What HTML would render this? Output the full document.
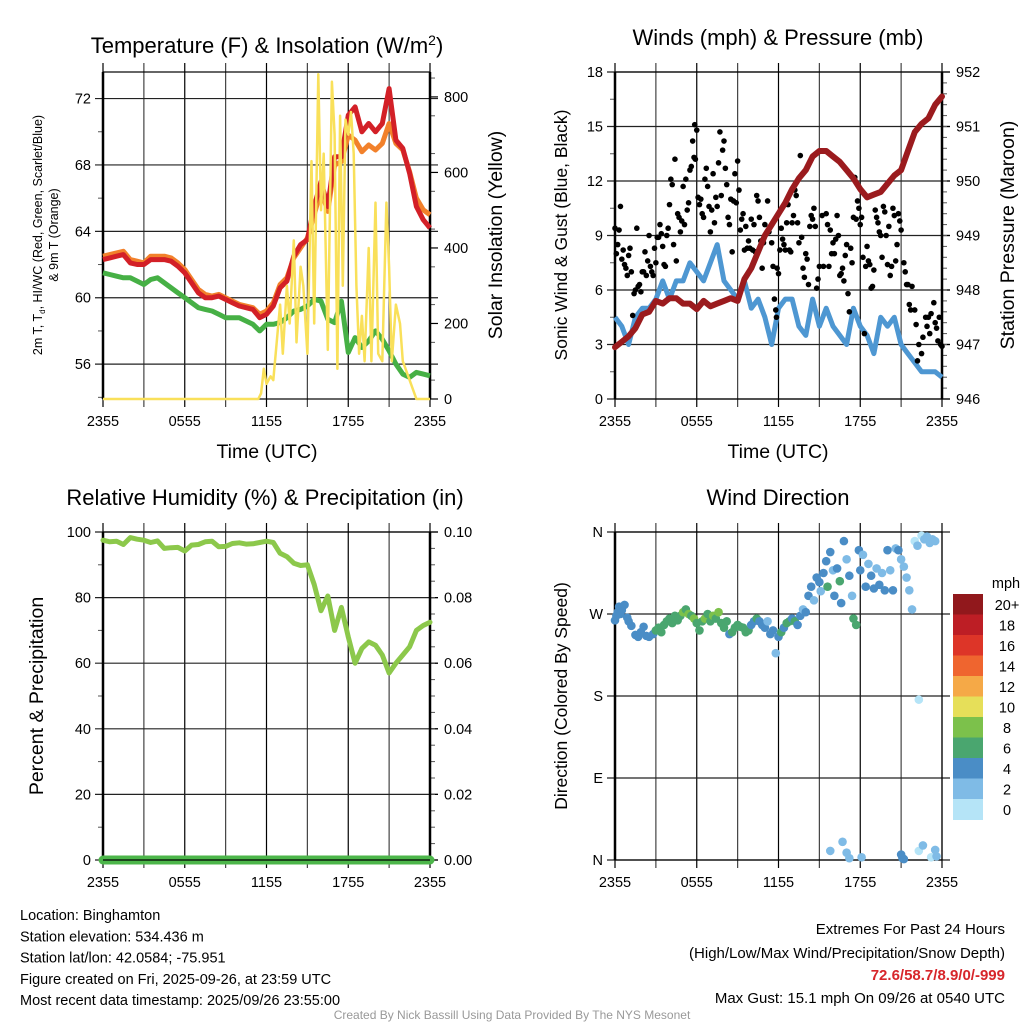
<!DOCTYPE html>
<html><head><meta charset="utf-8"><style>
html,body{margin:0;padding:0;background:#fff;}
svg{display:block;font-family:"Liberation Sans",Arial,sans-serif;}
</style></head><body>
<svg id="chart" width="1024" height="1024" viewBox="0 0 1024 1024" xmlns="http://www.w3.org/2000/svg">
<rect width="1024" height="1024" fill="#fff"/>
</svg>
<script>
// ---------- DATA ----------
const timeTickHours = [0, 6, 12, 18, 24];
const timeTickLabels = ['2355', '0555', '1155', '1755', '2355'];
const halfHours = [0,0.5,1,1.5,2,2.5,3,3.5,4,4.5,5,5.5,6,6.5,7,7.5,8,8.5,9,9.5,10,10.5,11,11.5,12,12.5,13,13.5,14,14.5,15,15.5,16,16.5,17,17.5,18,18.5,19,19.5,20,20.5,21,21.5,22,22.5,23,23.5,24];
const tempRed = [62.3,62.4,62.5,62.6,62.1,62.0,62.0,62.3,62.3,62.3,62.2,61.9,61.5,60.9,60.3,60.0,60.0,60.1,59.9,59.7,59.5,59.4,59.3,58.8,59.0,59.5,60.6,61.0,62.5,63.2,63.5,65.5,67.0,65.5,68.5,68.5,71.0,71.5,70.0,70.5,70.0,70.5,72.6,69.5,69.0,67.5,65.5,64.7,64.2];
const tempOrange = [62.5,62.6,62.7,62.8,62.3,62.2,62.1,62.5,62.5,62.5,62.4,62.1,61.7,61.1,60.5,60.2,60.1,60.2,60.0,59.8,59.6,59.5,59.4,59.0,59.2,59.7,60.8,61.2,62.4,63.0,63.6,65.0,66.5,65.2,68.0,68.2,69.8,69.5,68.8,69.2,68.9,69.3,70.5,69.3,68.9,67.6,66.0,65.3,65.0];
const dewGreen = [61.5,61.4,61.3,61.2,61.2,61.0,60.8,61.1,61.2,60.9,60.6,60.3,60.0,59.7,59.4,59.3,59.2,59.0,58.8,58.8,58.8,58.6,58.4,58.0,58.4,58.4,58.5,58.8,59.2,59.3,59.5,59.9,59.8,58.7,58.5,59.8,56.7,57.6,57.0,57.4,58.0,57.5,56.8,56.0,55.4,55.2,55.5,55.4,55.3];
const solarHours = [0,11.4,11.6,11.8,12,12.3,12.5,13,13.2,13.5,13.7,14,14.2,14.5,14.7,15,15.3,15.5,15.8,16,16.2,16.5,16.8,17,17.2,17.4,17.6,17.8,18,18.2,18.4,18.6,18.8,19,19.2,19.5,19.7,20,20.2,20.5,20.8,21,21.2,21.5,21.8,22,22.5,23,24];
const solarValues = [0,0,15,80,40,60,50,250,120,300,200,420,150,350,300,120,630,200,860,500,650,130,840,700,80,750,300,740,700,760,650,300,120,220,100,400,100,520,120,100,520,350,100,250,200,100,50,0,0];
const windSpeed = [4.5,4.0,3.0,4.5,5.0,5.0,5.5,6.5,5.5,6.5,6.5,7.5,7.0,6.5,7.5,8.5,6.5,6.0,5.5,6.5,5.0,5.5,4.5,3.0,5.0,5.5,5.5,4.0,3.5,5.5,4.0,5.0,4.0,3.5,3.0,5.0,4.0,3.5,2.5,4.5,4.0,4.5,3.0,2.5,2.0,1.5,1.5,1.5,1.2];
const pressure = [946.95,947.05,947.15,947.3,947.55,947.6,947.8,947.75,947.85,947.85,947.75,947.75,947.65,947.8,947.7,947.75,947.8,947.85,947.8,948.2,948.4,948.7,949.0,949.2,949.4,949.6,949.85,950.05,950.2,950.45,950.55,950.55,950.45,950.35,950.2,950.05,949.85,949.7,949.75,949.8,949.95,950.1,950.2,950.55,950.9,951.05,951.15,951.4,951.55];
const gustHours = [0,0.1,0.2,0.3,0.4,0.5,0.6,0.7,0.8,0.9,1.0,1.1,1.2,1.3,1.4,1.5,1.6,1.7,1.8,1.9,2.0,2.1,2.2,2.3,2.4,2.5,2.6,2.7,2.8,2.9,3.0,3.1,3.2,3.3,3.4,3.5,3.6,3.7,3.8,3.9,4.0,4.1,4.2,4.3,4.4,4.5,4.6,4.7,4.8,4.9,5.0,5.1,5.2,5.3,5.4,5.5,5.6,5.7,5.8,5.85,5.9,6.0,6.1,6.2,6.3,6.4,6.5,6.6,6.7,6.8,6.9,7.0,7.1,7.2,7.3,7.4,7.5,7.6,7.7,7.8,7.9,8.0,8.1,8.2,8.3,8.4,8.5,8.6,8.7,8.8,8.9,9.0,9.1,9.2,9.3,9.4,9.5,9.6,9.7,9.8,9.9,10.0,10.1,10.2,10.3,10.4,10.5,10.6,10.7,10.8,10.9,11.0,11.2,11.3,11.5,11.6,11.7,11.8,11.85,11.9,12.0,12.1,12.2,12.3,12.4,12.5,12.6,12.7,12.8,12.9,13.0,13.1,13.2,13.3,13.4,13.5,13.6,13.7,13.8,13.9,14.0,14.1,14.2,14.3,14.4,14.5,14.6,14.7,14.8,14.9,15.0,15.2,15.3,15.5,15.6,15.7,15.8,15.9,16.0,16.1,16.2,16.3,16.4,16.5,16.6,16.7,16.8,16.9,17.0,17.1,17.2,17.3,17.4,17.5,17.6,17.7,17.8,17.9,18.0,18.1,18.2,18.3,18.4,18.5,18.6,18.7,18.8,18.9,19.0,19.1,19.2,19.3,19.4,19.5,19.6,19.7,19.8,19.9,20.0,20.1,20.2,20.3,20.4,20.5,20.6,20.7,20.8,20.9,21.0,21.2,21.3,21.4,21.5,21.6,21.7,21.8,22.0,22.1,22.2,22.3,22.5,22.6,22.8,22.9,23.0,23.1,23.2,23.4,23.5,23.6,23.7,23.8,23.9,24.0];
const gustValues = [9.4,8.0,8.5,9.3,10.6,7.7,8.2,7.4,7.2,6.8,7.9,8.3,7.0,4.6,5.8,6.0,9.4,6.2,6.3,5.9,7.0,7.0,8.1,6.8,7.6,9.0,7.3,7.0,6.8,8.3,7.5,8.9,8.9,9.6,9.1,8.4,7.4,7.3,9.0,9.4,10.7,12.1,11.8,8.5,13.2,7.6,10.2,10.0,9.2,9.8,11.7,9.6,12.1,10.4,10.8,12.6,12.8,14.2,13.3,15.1,13.2,14.8,11.1,10.7,11.0,10.2,10.0,12.1,12.7,11.7,10.6,9.2,10.4,12.4,9.7,11.1,10.6,13.0,14.7,11.2,13.7,14.2,12.7,11.8,10.0,9.6,11.0,8.1,10.9,12.4,10.8,13.1,11.5,9.3,9.9,10.2,8.2,9.5,8.3,8.7,8.3,9.9,8.2,9.6,8.1,11.2,10.9,10.0,8.7,7.2,8.6,9.6,10.9,9.2,8.6,7.3,5.5,4.9,4.5,7.2,6.9,8.2,9.4,8.8,8.5,8.2,9.7,10.7,8.2,8.1,9.7,10.1,11.5,11.2,9.7,8.6,13.4,8.9,7.2,6.7,8.0,7.7,6.3,9.5,10.1,9.9,10.5,9.5,6.1,6.6,7.3,10.1,7.3,10.2,9.6,7.3,9.3,8.0,8.6,8.0,8.8,10.1,9.0,6.8,6.9,7.2,6.5,7.9,8.5,5.8,4.8,8.3,7.5,10.0,12.2,9.9,10.9,10.5,9.6,10.0,7.8,3.6,7.3,8.4,7.6,7.4,6.1,6.2,7.1,10.4,10.0,9.7,9.2,9.0,7.8,10.6,10.3,9.0,7.4,9.5,6.8,7.3,10.5,10.1,7.6,8.5,10.2,9.8,9.3,7.5,7.0,6.3,6.3,5.2,4.9,6.2,4.9,4.1,2.1,3.0,2.5,3.4,4.5,4.0,4.5,3.6,4.7,5.3,4.2,3.9,3.2,4.5,3.0,2.9];
const rhValues = [97.5,97.0,97.2,96.2,98.3,97.8,97.5,96.8,97.3,95.0,95.2,95.3,94.2,96.0,96.2,97.0,97.2,95.5,95.6,96.5,96.7,96.3,96.4,96.8,97.2,96.8,93.5,92.5,90.5,89.8,90.0,84.0,76.0,80.5,70.0,77.0,68.0,60.0,64.5,66.5,65.5,62.5,57.0,60.0,62.5,65.0,70.0,71.5,72.5];
const precipValues = [0,0,0,0,0,0,0,0,0,0,0,0,0,0,0,0,0,0,0,0,0,0,0,0,0,0,0,0,0,0,0,0,0,0,0,0,0,0,0,0,0,0,0,0,0,0,0,0,0];
const dirHours = [
 0,0.1,0.2,0.3,0.4,0.5,0.7,0.9,1.0,1.2,
 1.5,1.7,1.9,2.1,2.3,2.5,2.8,3.0,3.2,3.4,
 3.6,3.8,4.0,4.2,4.4,4.6,4.8,5.0,5.2,5.4,
 5.6,5.8,6.0,6.2,6.4,6.6,6.8,7.0,7.2,7.4,
 7.6,7.8,8.0,8.2,8.4,8.6,8.8,9.0,9.2,9.4,
 9.6,9.8,10.0,10.2,10.4,10.6,10.8,11.0,11.2,11.4,
 11.6,11.8,12.0,12.2,12.4,12.6,12.8,13.0,13.2,13.4,
 13.6,13.8,14.0,14.2,14.4,14.6,14.8,15.0,15.1,15.3,
 15.5,15.6,15.8,16.0,16.1,16.3,16.5,16.6,16.8,17.0,
 17.2,17.4,17.5,17.7,17.9,18.0,18.2,18.4,18.6,18.8,
 19.0,19.2,19.4,19.6,19.8,20.0,20.2,20.4,20.6,20.8,
 21.0,21.2,21.4,21.6,21.8,22.0,22.2,22.3,22.5,22.7,
 22.9,23.1,23.3,23.5,15.8,16.7,17.0,17.2,18.1,21.0,
 21.1,21.2,22.3,22.6,23.2,23.5,23.6];
const dirValues = [
 263,268,272,278,270,274,280,266,262,257,
 247,245,250,256,246,245,248,252,255,250,
 258,262,265,260,268,263,268,272,275,270,
 268,265,260,252,262,265,270,262,268,265,
 272,260,255,262,248,250,255,258,256,255,
 250,252,258,262,265,262,258,255,262,248,
 252,227,245,250,255,260,262,265,262,258,
 268,275,272,290,300,285,310,305,295,315,
 328,300,338,318,290,320,306,282,350,330,
 312,290,265,258,340,318,335,300,325,312,
 298,320,302,315,296,340,318,296,342,340,
 330,322,310,296,275,350,345,176,356,352,
 355,348,352,350,10,20,8,2,3,6,
 2,1,10,16,3,11,4];
const dirSpeed = [
 4.5,4.6,4.8,4.5,4.3,4.5,4.6,4.4,4.5,4.2,
 4.3,4.5,4.4,4.6,4.4,4.3,4.5,6.5,6.6,6.8,
 6.4,6.7,6.9,7.1,6.5,6.8,7.2,8.2,6.7,8.4,
 6.8,8.2,7.0,6.5,7.2,8.3,6.9,7.1,8.0,6.6,
 8.5,6.8,7.0,6.9,4.5,6.5,6.8,6.6,6.9,7.2,
 6.7,6.6,4.5,4.4,6.5,4.8,4.5,4.2,3.2,4.5,
 4.4,3.5,4.8,6.5,4.5,6.6,6.8,4.5,6.7,4.6,
 4.5,3.8,4.6,4.4,4.5,3.5,4.6,4.5,3.5,4.7,
 4.5,6.5,4.8,3.5,4.5,4.6,6.5,4.7,4.8,3.5,
 4.6,3.3,6.5,6.6,4.5,4.7,3.5,4.4,3.5,4.6,
 4.5,3.5,4.7,3.6,4.8,4.5,3.5,4.4,3.5,4.5,
 3.4,3.6,3.3,3.5,3.4,1.2,3.5,1.0,1.2,3.4,
 3.3,3.5,3.4,3.2,3.3,3.5,3.5,3.3,3.2,4.5,
 4.6,4.5,1.2,3.3,1.0,3.5,3.5];
const colorBinLabels = ['0','2','4','6','8','10','12','14','16','18','20+'];
const colorBinColors = ['#b5e4f7','#7fbbe6','#4a8dc6','#4aa66f','#7cc14b','#e6df59','#f5a947','#ef652f','#dd3528','#bd1e25','#91181c'];

// ---------- HELPERS ----------
const svg = document.getElementById('chart');
const NS = 'http://www.w3.org/2000/svg';
function mk(tag, attrs, parent) {
  const e = document.createElementNS(NS, tag);
  for (const k in attrs) e.setAttribute(k, attrs[k]);
  (parent || svg).appendChild(e);
  return e;
}
function txt(str, x, y, size, anchor, parent, extra) {
  const e = mk('text', Object.assign({x: x, y: y, 'font-size': size, 'text-anchor': anchor || 'middle', fill: '#000'}, extra || {}), parent);
  e.textContent = str;
  return e;
}
function scaleLin(d0, d1, r0, r1) { return v => r0 + (v - d0) / (d1 - d0) * (r1 - r0); }
function pathFrom(xs, ys, sx, sy) {
  let d = '';
  for (let i = 0; i < xs.length; i++) d += (i ? 'L' : 'M') + sx(xs[i]).toFixed(1) + ',' + sy(ys[i]).toFixed(1);
  return d;
}

function buildFrame(g, X0, X1, Y0, Y1, leftTicks, leftLabels, ly, leftMinor, rightTicks, rightLabels, ry, rightMinor, gridRight) {
  const sx = scaleLin(0, 24, X0, X1);
  for (let h = 0; h <= 24; h += 3) {
    const l = mk('line', {x1: sx(h), x2: sx(h), y1: Y0 - 9, y2: Y1 + 8, stroke: (h % 6 === 0) ? '#000' : '#444', 'stroke-width': 1.2}, g);
    
    
  }
  for (let i = 0; i < leftTicks.length; i++) {
    const y = ly(leftTicks[i]);
    const l = mk('line', {x1: X0 - 8, x2: gridRight || (X1 + 8), y1: y, y2: y, stroke: '#222', 'stroke-width': 1.2}, g);
    
    
    const t = txt(leftLabels[i], X0 - 12, y + 5, 14.5, 'end', g);
    
    
  }
  for (const v of leftMinor) {
    const y = ly(v);
    const l = mk('line', {x1: X0 - 5, x2: X0, y1: y, y2: y, stroke: '#555', 'stroke-width': 1}, g);
    
    
  }
  if (rightTicks) {
    for (let i = 0; i < rightTicks.length; i++) {
      const y = ry(rightTicks[i]);
      const l = mk('line', {x1: X1, x2: X1 + 8, y1: y, y2: y, stroke: '#000', 'stroke-width': 1.2}, g);
      
      
      const t = txt(rightLabels[i], X1 + 14, y + 5, 14.5, 'start', g);
      
      
    }
    for (const v of rightMinor) {
      const y = ry(v);
      const l = mk('line', {x1: X1, x2: X1 + 5, y1: y, y2: y, stroke: '#555', 'stroke-width': 1}, g);
      
      
    }
  }
  for (let i = 0; i < timeTickHours.length; i++) {
    const t = txt(timeTickLabels[i], sx(timeTickHours[i]), Y1 + 27, 14.5, 'middle', g);
    
    
  }
  const fr = mk('rect', {x: X0, y: Y0, width: X1 - X0, height: Y1 - Y0, fill: 'none', stroke: '#000', 'stroke-width': 1.2}, g);
  
  
  const lb = mk('line', {x1: X0, x2: X0, y1: Y0, y2: Y1, stroke: '#000', 'stroke-width': 2.5}, g);
  
  
  if (rightTicks) {
    const rb = mk('line', {x1: X1, x2: X1, y1: Y0, y2: Y1, stroke: '#000', 'stroke-width': 2.5}, g);
    
    
  }
  return sx;
}
function range(a, b, s) { const r = []; for (let v = a; v <= b + 1e-9; v += s) r.push(+v.toFixed(4)); return r; }

// ---------- PANEL 1: Temperature ----------
{
  const g = mk('g', {});
  
  
  const X0 = 103, X1 = 430, Y0 = 72, Y1 = 399;
  const ly = scaleLin(53.9, 73.6, Y1, Y0);
  const ry = scaleLin(0, 866, Y1, Y0);
  const sx = buildFrame(g, X0, X1, Y0, Y1, [56,60,64,68,72], ['56','60','64','68','72'], ly, [54,58,62,66,70], [0,200,400,600,800], ['0','200','400','600','800'], ry, range(50, 850, 100));
  const po = mk('path', {d: pathFrom(halfHours, tempOrange, sx, ly), fill: 'none', stroke: '#f2812b', 'stroke-width': 5, 'stroke-linejoin': 'round'}, g);
  
  
  const pr = mk('path', {d: pathFrom(halfHours, tempRed, sx, ly), fill: 'none', stroke: '#d32027', 'stroke-width': 5, 'stroke-linejoin': 'round'}, g);
  
  
  const pg = mk('path', {d: pathFrom(halfHours, dewGreen, sx, ly), fill: 'none', stroke: '#46b045', 'stroke-width': 5, 'stroke-linejoin': 'round'}, g);
  
  
  const py = mk('path', {d: pathFrom(solarHours, solarValues, sx, ry), fill: 'none', stroke: '#f9e05a', 'stroke-width': 2.5, 'stroke-linejoin': 'round'}, g);
  
  
  const t = mk('text', {x: 267, y: 53, 'font-size': 22, 'text-anchor': 'middle'}, g);
  t.innerHTML = 'Temperature (F) &amp; Insolation (W/m<tspan dy="-8" font-size="14">2</tspan><tspan dy="8">)</tspan>';
  
  
  const yl = mk('text', {transform: 'translate(42,235) rotate(-90)', 'font-size': 12.5, 'text-anchor': 'middle'}, g);
  yl.innerHTML = '2m T, T<tspan font-size="8" dy="3">d</tspan><tspan dy="-3">, HI/WC (Red, Green, Scarlet/Blue)</tspan>';
  
  
  const yl2 = txt('& 9m T (Orange)', 0, 0, 12.5, 'middle', g, {transform: 'translate(58,235) rotate(-90)'});
  
  
  const rt = txt('Solar Insolation (Yellow)', 0, 0, 19.5, 'middle', g, {transform: 'translate(502,235) rotate(-90)'});
  
  
  const xt = txt('Time (UTC)', 267, 458, 19.5, 'middle', g);
  
  
}

// ---------- PANEL 2: Winds ----------
{
  const g = mk('g', {});
  
  
  const X0 = 615, X1 = 942, Y0 = 72, Y1 = 399;
  const ly = scaleLin(0, 18, Y1, Y0);
  const ry = scaleLin(946, 952, Y1, Y0);
  const sx = buildFrame(g, X0, X1, Y0, Y1, [0,3,6,9,12,15,18], ['0','3','6','9','12','15','18'], ly, range(1.5, 16.5, 3), [946,947,948,949,950,951,952], ['946','947','948','949','950','951','952'], ry, range(946.2, 951.8, 0.2));
  const pb = mk('path', {d: pathFrom(halfHours, windSpeed, sx, ly), fill: 'none', stroke: '#4e97d2', 'stroke-width': 5, 'stroke-linejoin': 'round'}, g);
  
  
  for (let i = 0; i < gustHours.length; i++) {
    const c = mk('circle', {cx: sx(gustHours[i]), cy: ly(gustValues[i]), r: 2.8, fill: '#000'}, g);
    
    
  }
  const pm = mk('path', {d: pathFrom(halfHours, pressure, sx, ry), fill: 'none', stroke: '#9b1b1e', 'stroke-width': 6, 'stroke-linejoin': 'round', 'stroke-linecap': 'round'}, g);
  
  
  const t = txt('Winds (mph) & Pressure (mb)', 778, 45, 22, 'middle', g);
  
  
  const yl = txt('Sonic Wind & Gust (Blue, Black)', 0, 0, 17.5, 'middle', g, {transform: 'translate(567,235) rotate(-90)'});
  
  
  const rt = txt('Station Pressure (Maroon)', 0, 0, 19.5, 'middle', g, {transform: 'translate(1014,235) rotate(-90)'});
  
  
  const xt = txt('Time (UTC)', 778, 458, 19.5, 'middle', g);
  
  
}

// ---------- PANEL 3: RH ----------
{
  const g = mk('g', {});
  
  
  const X0 = 103, X1 = 430, Y0 = 532, Y1 = 860;
  const ly = scaleLin(0, 100, Y1, Y0);
  const ry = scaleLin(0, 0.1, Y1, Y0);
  const sx = buildFrame(g, X0, X1, Y0, Y1, [0,20,40,60,80,100], ['0','20','40','60','80','100'], ly, range(10, 90, 20), [0,0.02,0.04,0.06,0.08,0.1], ['0.00','0.02','0.04','0.06','0.08','0.10'], ry, range(0.005, 0.095, 0.005));
  const pp = mk('path', {d: pathFrom(halfHours, precipValues, sx, ry), fill: 'none', stroke: '#4cb64a', 'stroke-width': 9, 'stroke-linecap': 'round'}, g);
  
  
  const ph = mk('path', {d: pathFrom(halfHours, rhValues, sx, ly), fill: 'none', stroke: '#8cc84b', 'stroke-width': 5, 'stroke-linejoin': 'round', 'stroke-linecap': 'round'}, g);
  
  
  const bl = mk('line', {x1: X0, x2: X1, y1: Y1, y2: Y1, stroke: '#000', 'stroke-width': 1.2}, g);
  
  
  const t = txt('Relative Humidity (%) & Precipitation (in)', 265, 505, 22, 'middle', g);
  
  
  const yl = txt('Percent & Precipitation', 0, 0, 19.5, 'middle', g, {transform: 'translate(43,696) rotate(-90)'});
  
  
}

// ---------- PANEL 4: Wind direction ----------
{
  const g = mk('g', {});
  
  
  const X0 = 615, X1 = 942, Y0 = 532, Y1 = 860;
  const ly = scaleLin(0, 360, Y1, Y0);
  const sx = buildFrame(g, X0, X1, Y0, Y1, [0,90,180,270,360], ['N','E','S','W','N'], ly, [], null, null, null, null, 950);
  function binColor(s) { const i = Math.max(0, Math.min(10, Math.floor((s || 0) / 2))); return colorBinColors[i]; }
  const n = Math.min(dirHours.length, dirValues.length, dirSpeed.length);
  for (let i = 0; i < n; i++) {
    const c = mk('circle', {cx: sx(dirHours[i]), cy: ly(dirValues[i]), r: 4.3, fill: binColor(dirSpeed[i])}, g);
    
    
  }
  const t = txt('Wind Direction', 778, 505, 22, 'middle', g);
  
  
  const yl = txt('Direction (Colored By Speed)', 0, 0, 17.5, 'middle', g, {transform: 'translate(567,696) rotate(-90)'});
  
  
  const lg = mk('g', {}, g);
  
  
  const cbTop = 594, cbH = 20.5;
  const mph = txt('mph', 1006, 588, 14.5, 'middle', lg);
  
  
  for (let i = 0; i < colorBinColors.length; i++) {
    const k = colorBinColors.length - 1 - i;
    const r = mk('rect', {x: 953, y: cbTop + i * cbH, width: 30, height: cbH + 0.5, fill: colorBinColors[k]}, lg);
    
    
    const l = txt(colorBinLabels[k], 1007, cbTop + i * cbH + 16, 14.5, 'middle', lg);
    
    
  }
}

// ---------- FOOTER TEXT ----------
{
  const info = ['Location: Binghamton', 'Station elevation: 534.436 m', 'Station lat/lon: 42.0584; -75.951', 'Figure created on Fri, 2025-09-26, at 23:59 UTC', 'Most recent data timestamp: 2025/09/26 23:55:00'];
  for (let i = 0; i < info.length; i++) {
    const t = txt(info[i], 20, 920 + i * 21.3, 14.5, 'start');
    
    
  }
  const e1 = txt('Extremes For Past 24 Hours', 1005, 934, 15, 'end');
  
  
  const e2 = txt('(High/Low/Max Wind/Precipitation/Snow Depth)', 1005, 958, 15, 'end');
  
  
  const e3 = txt('72.6/58.7/8.9/0/-999', 1005, 980, 15, 'end', null, {fill: '#d7262b', 'font-weight': 'bold'});
  
  
  const e4 = txt('Max Gust: 15.1 mph On 09/26 at 0540 UTC', 1005, 1003, 15, 'end');
  
  
  const cr = txt('Created By Nick Bassill Using Data Provided By The NYS Mesonet', 512, 1019, 12, 'middle', null, {fill: '#999'});
  
  
}
</script>
</body></html>
